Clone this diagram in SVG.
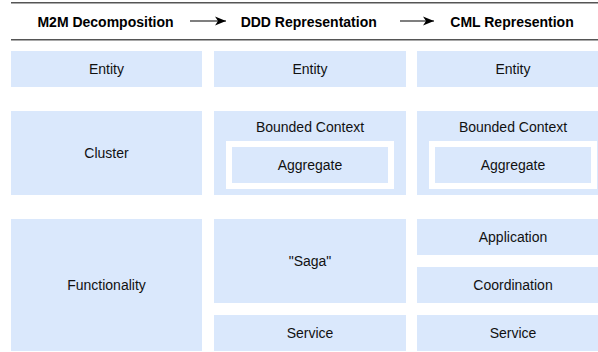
<svg xmlns="http://www.w3.org/2000/svg" width="598" height="352" viewBox="0 0 598 352">
  <defs>
    <marker id="arr" markerWidth="12" markerHeight="10" refX="11" refY="5" orient="auto" markerUnits="userSpaceOnUse">
      <path d="M11,5 L0,0.5 L3,5 L0,9.5 Z" fill="#000"/>
    </marker>
    <style>
      .box { fill: #dae8fc; }
      .frame { fill: #ffffff; }
      .t { font-family: "Liberation Sans", Arial, Helvetica, sans-serif; font-size: 14px; fill: #111; text-anchor: middle; }
      .h { font-family: "Liberation Sans", Arial, Helvetica, sans-serif; font-size: 14px; font-weight: bold; fill: #000; text-anchor: middle; }
      .rule { stroke: #555; stroke-width: 1.5; fill: none; }
      .conn { stroke: #000; stroke-width: 1.2; fill: none; }
    </style>
  </defs>
  <rect width="598" height="352" fill="#ffffff"/>

  <g id="header">
    <line class="rule" x1="11" y1="2.8" x2="598" y2="2.8"/>
    <line class="rule" x1="11" y1="39.8" x2="598" y2="39.8"/>
    <text class="h" x="105.5" y="26.5">M2M Decomposition</text>
    <text class="h" x="308.7" y="26.5">DDD Representation</text>
    <text class="h" x="512" y="26.5">CML Represention</text>
  </g>

  <g id="connectors">
    <line class="conn" x1="190" y1="21" x2="226" y2="21" marker-end="url(#arr)"/>
    <line class="conn" x1="400" y1="21" x2="434" y2="21" marker-end="url(#arr)"/>
  </g>

  <g id="m2m-entity">
    <rect class="box" x="11" y="51" width="191" height="36"/>
    <text class="t" x="106.5" y="74">Entity</text>
  </g>
  <g id="ddd-entity">
    <rect class="box" x="214" y="51" width="192" height="36"/>
    <text class="t" x="310" y="74">Entity</text>
  </g>
  <g id="cml-entity">
    <rect class="box" x="417" y="51" width="192" height="36"/>
    <text class="t" x="513" y="74">Entity</text>
  </g>

  <g id="m2m-cluster">
    <rect class="box" x="11" y="111" width="191" height="84"/>
    <text class="t" x="106.5" y="158">Cluster</text>
  </g>
  <g id="ddd-bounded-context">
    <rect class="box" x="214" y="111" width="192" height="84"/>
    <text class="t" x="310" y="132">Bounded Context</text>
  </g>
  <g id="ddd-aggregate">
    <rect class="frame" x="226" y="141" width="168" height="48"/>
    <rect class="box" x="232" y="147" width="156" height="36"/>
    <text class="t" x="310" y="170">Aggregate</text>
  </g>
  <g id="cml-bounded-context">
    <rect class="box" x="417" y="111" width="192" height="84"/>
    <text class="t" x="513" y="132">Bounded Context</text>
  </g>
  <g id="cml-aggregate">
    <rect class="frame" x="429" y="141" width="168" height="48"/>
    <rect class="box" x="435" y="147" width="156" height="36"/>
    <text class="t" x="513" y="170">Aggregate</text>
  </g>

  <g id="m2m-functionality">
    <rect class="box" x="11" y="219" width="191" height="132"/>
    <text class="t" x="106.5" y="290">Functionality</text>
  </g>
  <g id="ddd-saga">
    <rect class="box" x="214" y="219" width="192" height="84"/>
    <text class="t" x="310" y="266">"Saga"</text>
  </g>
  <g id="ddd-service">
    <rect class="box" x="214" y="315" width="192" height="36"/>
    <text class="t" x="310" y="338">Service</text>
  </g>
  <g id="cml-application">
    <rect class="box" x="417" y="219" width="192" height="36"/>
    <text class="t" x="513" y="242">Application</text>
  </g>
  <g id="cml-coordination">
    <rect class="box" x="417" y="267" width="192" height="36"/>
    <text class="t" x="513" y="290">Coordination</text>
  </g>
  <g id="cml-service">
    <rect class="box" x="417" y="315" width="192" height="36"/>
    <text class="t" x="513" y="338">Service</text>
  </g>
</svg>
